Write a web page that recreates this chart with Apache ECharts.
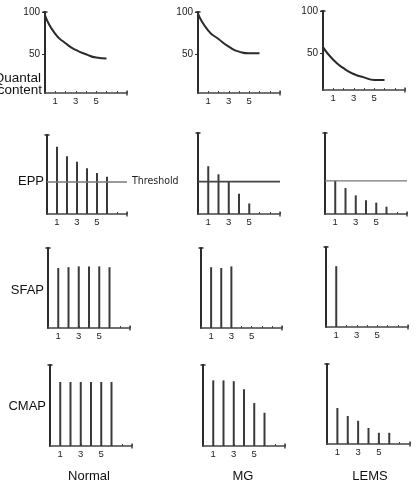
<!DOCTYPE html>
<html>
<head>
<meta charset="utf-8">
<title>Quantal content, EPP, SFAP, CMAP</title>
<script src="https://cdn.jsdelivr.net/npm/echarts@6/dist/echarts.min.js"></script>
<style>
  html, body { margin: 0; padding: 0; background: #fff; }
  #chart { width: 416px; height: 482px; }
</style>
</head>
<body>
<div id="chart"></div>
<script>
// x tick labels shown under every panel
const tickLabels = [1, 3, 5];

// quantal content, read at x = 0..6
const quantalNormal = [96, 74, 63, 55, 50, 46, 45];
const quantalMG = [98, 78, 68, 59, 53, 51, 51];
const quantalLEMS = [57, 42, 32, 25, 21, 18, 18];

// end plate potentials, stimulus 1..n
const eppNormal = [85, 73, 66, 58, 52, 47];
const eppMG = [59, 49, 40, 25, 13];
const eppLEMS = [41, 32, 23, 17, 14, 9];
const eppThreshold = [40.5, 40, 41];

// single fibre action potentials
const sfapNormal = [75, 76, 77, 77, 77, 76];
const sfapMG = [76, 75, 77];
const sfapLEMS = [76];

// compound muscle action potentials
const cmapNormal = [79, 79, 79, 79, 79, 79];
const cmapMG = [81, 81, 80, 70, 53, 41];
const cmapLEMS = [45, 35, 29, 20, 14, 14];

const columnNames = ['Normal', 'MG', 'LEMS'];

// panel boxes [left, top, width, height] in px
const panels = [
  [45, 12, 82, 81], [198, 12, 82, 81], [323, 11, 82, 79],
  [47, 135, 80, 79], [198, 133, 82, 81], [325, 133, 82, 81],
  [48, 248, 82, 80], [201, 248, 81, 80], [326, 247, 82, 80],
  [50, 365, 82, 81], [203, 365, 82, 81], [327, 364, 83, 80]
];
// the quantal x-axis sits a little above zero
const quantalMin = [4, 4, 6];

const ink = '#2b2b2b';
const font = "'Liberation Sans', Arial, sans-serif";

const grids = [];
const xAxes = [];
const yAxes = [];
const series = [];

panels.forEach((p, i) => {
  const row = Math.floor(i / 3);
  const col = i % 3;
  grids.push({
    left: p[0], top: p[1], width: p[2], height: p[3],
    outerBoundsMode: 'none',
    containLabel: false
  });
  xAxes.push({
    gridIndex: i,
    type: 'value',
    min: 0,
    max: 8,
    interval: 1,
    splitLine: { show: false },
    axisLine: {
      onZero: false,
      lineStyle: { color: '#444', width: 1.5 },
      symbol: ['none', 'rect'],
      symbolSize: [5, 1.5]
    },
    axisTick: { show: true, inside: true, length: 2, lineStyle: { color: '#444' } },
    axisLabel: {
      margin: 3,
      fontSize: 9.5,
      color: '#222',
      fontFamily: font,
      formatter: (v) => (tickLabels.indexOf(v) >= 0 ? String(v) : '')
    }
  });
  const y = {
    gridIndex: i,
    type: 'value',
    min: row === 0 ? quantalMin[col] : 0,
    max: 100,
    splitLine: { show: false },
    axisLine: {
      lineStyle: { color: ink, width: 2 },
      symbol: ['none', 'rect'],
      symbolSize: [5, 1.5]
    },
    axisTick: { show: false },
    axisLabel: { show: false }
  };
  if (row === 0) {
    y.axisTick = { show: true, length: 3, customValues: [50, 100], lineStyle: { color: ink } };
    y.axisLabel = {
      show: true,
      customValues: [50, 100],
      margin: 5,
      fontSize: 10,
      color: '#222',
      fontFamily: font,
      formatter: (v) => (v === 50 || v === 100 ? String(v) : '')
    };
  }
  yAxes.push(y);
});

// row 1: quantal content curves
[quantalNormal, quantalMG, quantalLEMS].forEach((vals, col) => {
  series.push({
    type: 'line',
    xAxisIndex: col,
    yAxisIndex: col,
    smooth: 0.6,
    symbol: 'none',
    lineStyle: { color: ink, width: 2 },
    data: vals.map((v, k) => [k, v])
  });
});

// rows 2-4: stimulus bars
const barRows = [
  [eppNormal, eppMG, eppLEMS],
  [sfapNormal, sfapMG, sfapLEMS],
  [cmapNormal, cmapMG, cmapLEMS]
];
barRows.forEach((rowData, r) => {
  rowData.forEach((vals, col) => {
    const idx = (r + 1) * 3 + col;
    series.push({
      type: 'bar',
      xAxisIndex: idx,
      yAxisIndex: idx,
      barWidth: 2,
      itemStyle: { color: '#3a3a3a' },
      data: vals.map((v, k) => [k + 1, v])
    });
  });
});

// threshold lines in the EPP row
eppThreshold.forEach((t, col) => {
  series.push({
    type: 'line',
    xAxisIndex: 3 + col,
    yAxisIndex: 3 + col,
    symbol: 'none',
    lineStyle: { color: col === 1 ? '#444' : '#777', width: col === 1 ? 1.8 : 1.3 },
    data: [[0, t], [8, t]]
  });
});

const labelStyle = (text, x, y, align, size) => ({
  type: 'text',
  x: x,
  y: y,
  style: {
    text: text,
    fill: '#111',
    font: size + 'px ' + font,
    textAlign: align,
    textVerticalAlign: 'middle'
  }
});

const graphics = [
  labelStyle('Quantal', 41, 78, 'right', 13.5),
  labelStyle('content', 42, 90, 'right', 13.5),
  labelStyle('EPP', 44, 181, 'right', 13),
  labelStyle('SFAP', 44, 290, 'right', 13),
  labelStyle('CMAP', 46, 406, 'right', 13),
  labelStyle(columnNames[0], 89, 476, 'center', 13),
  labelStyle(columnNames[1], 243, 476, 'center', 13),
  labelStyle(columnNames[2], 370, 476, 'center', 13),
  {
    type: 'text',
    x: 132,
    y: 181,
    style: {
      text: 'Threshold',
      fill: '#222',
      font: "10.5px 'Liberation Sans Narrow', 'DejaVu Sans Condensed', sans-serif",
      textAlign: 'left',
      textVerticalAlign: 'middle'
    }
  }
];

const chart = echarts.init(document.getElementById('chart'), null, { renderer: 'canvas' });
chart.setOption({
  backgroundColor: '#fff',
  animation: false,
  grid: grids,
  xAxis: xAxes,
  yAxis: yAxes,
  series: series,
  graphic: graphics
});
</script>
</body>
</html>
